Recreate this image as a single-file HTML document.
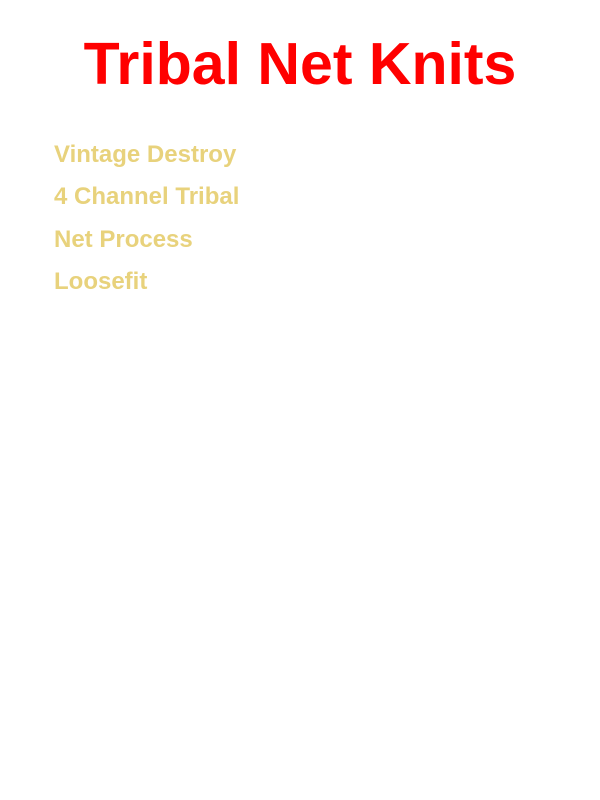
<!DOCTYPE html>
<html><head><meta charset="utf-8"><style>
html,body{margin:0;padding:0;background:#fff;width:600px;height:800px;overflow:hidden;position:relative;font-family:"Liberation Sans",sans-serif;}
h1{position:absolute;left:0;width:600px;top:28px;margin:0;text-align:center;color:#ff0000;font-size:59px;font-weight:bold;line-height:72px;}
.i{position:absolute;left:54px;color:#e8d27c;font-size:24px;font-weight:bold;line-height:28px;margin:0;}
</style></head><body>
<h1>Tribal Net Knits</h1>
<div class="i" style="top:141px">Vintage Destroy</div>
<div class="i" style="top:183px">4 Channel Tribal</div>
<div class="i" style="top:226px">Net Process</div>
<div class="i" style="top:268px">Loosefit</div>
</body></html>
